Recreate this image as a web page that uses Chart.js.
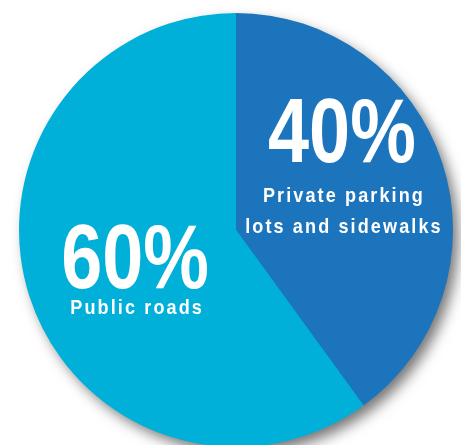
<!DOCTYPE html>
<html>
<head>
<meta charset="utf-8">
<script src="https://cdn.jsdelivr.net/npm/chart.js@4.4.1/dist/chart.umd.min.js"></script>
<style>
  html, body { margin: 0; padding: 0; background: #ffffff; overflow: hidden; width: 461px; height: 445px; }
  #wrap { position: absolute; left: 0; top: 0; width: 472px; height: 460px; }
</style>
</head>
<body>
<div id="wrap"><canvas id="c" width="472" height="460"></canvas></div>
<script>
// ---- data ----
const categories = ["Private parking lots and sidewalks", "Public roads"];
const shares = [40, 60];
const percentLabels = ["40%", "60%"];
const descriptionLines = [["Private parking", "lots and sidewalks"], ["Public roads"]];

// ---- styles ----
const sliceColors = ["#1c75bc", "#00b0d8"];
const fontFamily = "'Liberation Sans', Arial, sans-serif";
const bigFont = { size: 90, squeeze: 0.82, spacing: 0 };
const smallFont = { size: 21, squeeze: 0.86, spacing: 2.45 };
// label anchor, as fraction of radius from the pie centre, and line offsets (px)
const labelLayout = [
  { fx: 0.488, fy: -0.313, lines: [40, 71] },
  { fx: -0.465, fy: 0.267, lines: [26] }
];

function drawCondensed(ctx, text, cx, by, f) {
  ctx.save();
  ctx.font = 'bold ' + f.size + 'px ' + fontFamily;
  if ('letterSpacing' in ctx) ctx.letterSpacing = f.spacing + 'px';
  ctx.translate(cx, by);
  ctx.scale(f.squeeze, 1);
  ctx.textAlign = 'center';
  ctx.textBaseline = 'alphabetic';
  ctx.fillText(text, f.spacing / 2, 0);
  ctx.restore();
}

const shadowPlugin = {
  id: 'pieShadow',
  beforeDatasetsDraw(chart) {
    const arc = chart.getDatasetMeta(0).data[0];
    if (!arc) return;
    const { x, y, outerRadius } = arc.getProps(['x', 'y', 'outerRadius'], true);
    const ctx = chart.ctx;
    ctx.save();
    ctx.shadowColor = 'rgba(0,0,0,0.55)';
    ctx.shadowBlur = 14;
    ctx.shadowOffsetX = 6;
    ctx.shadowOffsetY = 7;
    ctx.fillStyle = sliceColors[1];
    ctx.beginPath();
    ctx.arc(x, y, outerRadius - 1, 0, Math.PI * 2);
    ctx.fill();
    ctx.restore();
  }
};

const labelPlugin = {
  id: 'sliceLabels',
  afterDatasetsDraw(chart) {
    const meta = chart.getDatasetMeta(0);
    const ctx = chart.ctx;
    meta.data.forEach((arc, i) => {
      const { x, y, outerRadius } = arc.getProps(['x', 'y', 'outerRadius'], true);
      const lay = labelLayout[i];
      const cx = x + lay.fx * outerRadius;
      const by = y + lay.fy * outerRadius;
      ctx.save();
      ctx.fillStyle = '#ffffff';
      drawCondensed(ctx, percentLabels[i], cx, by, bigFont);
      descriptionLines[i].forEach((ln, j) => {
        drawCondensed(ctx, ln, cx + 1, by + lay.lines[j], smallFont);
      });
      ctx.restore();
    });
  }
};

new Chart(document.getElementById('c'), {
  type: 'pie',
  data: {
    labels: categories,
    datasets: [{
      data: shares,
      backgroundColor: sliceColors,
      borderWidth: 0,
      hoverOffset: 0
    }]
  },
  options: {
    responsive: false,
    animation: false,
    layout: { padding: { left: 19, right: 19, top: 13, bottom: 13 } },
    plugins: {
      legend: { display: false },
      tooltip: { enabled: false },
      title: { display: false }
    }
  },
  plugins: [shadowPlugin, labelPlugin]
});
</script>
</body>
</html>
